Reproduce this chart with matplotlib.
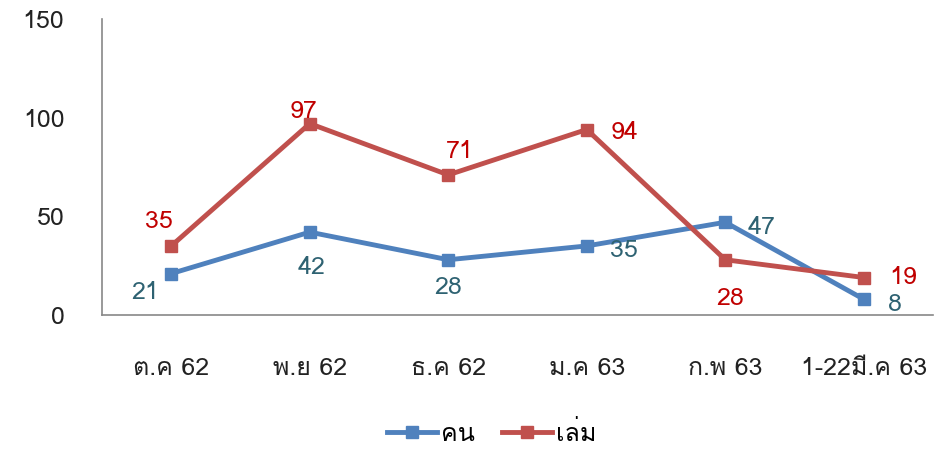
import matplotlib
matplotlib.use('Agg')
import matplotlib.pyplot as plt
from matplotlib import font_manager
from matplotlib.ft2font import FT2Font

# หาฟอนต์ที่มีอักษรไทย
def find_thai_font():
    for f in font_manager.fontManager.ttflist:
        try:
            cmap = FT2Font(f.fname).get_charmap()
        except Exception:
            continue
        if ord('ค') in cmap and ord('่') in cmap:
            return f.name
    return None

thai_font = find_thai_font()
fams = ([thai_font] if thai_font else []) + ['DejaVu Sans']
plt.rcParams['font.family'] = fams

months = ['ต.ค 62', 'พ.ย 62', 'ธ.ค 62', 'ม.ค 63', 'ก.พ 63', '1-22มี.ค 63']
people = [21, 42, 28, 35, 47, 8]
books = [35, 97, 71, 94, 28, 19]
series_names = ['คน', 'เล่ม']

blue = '#4F81BD'
red = '#C0504D'
blue_lab = '#2E6272'
red_lab = '#C00000'
fs = 18

fig = plt.figure(figsize=(9.45, 4.55), dpi=100)
ax = fig.add_axes([102 / 945, 1 - 315 / 455, (933 - 102) / 945, (315 - 19) / 455])

x = list(range(len(months)))
ax.plot(x, people, color=blue, lw=3.5, marker='s', ms=8, label=series_names[0])
ax.plot(x, books, color=red, lw=3.5, marker='s', ms=8, label=series_names[1])

# ตำแหน่งป้ายข้อมูล (offset เป็น pixels, ha)
blue_off = [(-26, -19, 'center'), (2, -35, 'center'), (0, -28, 'center'),
            (23, -5, 'left'), (22, -5, 'left'), (24, -5, 'left')]
red_off = [(-12, 24, 'center'), (-6, 12, 'center'), (12, 23, 'center'),
           (24, -3, 'left'), (5, -39, 'center'), (26, 0, 'left')]
for i, v in enumerate(people):
    dx, dy, ha = blue_off[i]
    ax.annotate(str(v), (i, v), xytext=(dx, dy), textcoords='offset pixels',
                ha=ha, va='center', color=blue_lab, fontsize=fs)
for i, v in enumerate(books):
    dx, dy, ha = red_off[i]
    ax.annotate(str(v), (i, v), xytext=(dx, dy), textcoords='offset pixels',
                ha=ha, va='center', color=red_lab, fontsize=fs)

ax.set_xlim(-0.5, 5.5)
ax.set_ylim(0, 150)
ax.set_yticks([0, 50, 100, 150])
ax.set_xticks(x)
ax.set_xticklabels(months)
ax.tick_params(axis='both', length=0, labelsize=fs, colors='#222222')
ax.tick_params(axis='y', pad=27)
ax.tick_params(axis='x', pad=30)
for s in ['top', 'right']:
    ax.spines[s].set_visible(False)
for s in ['left', 'bottom']:
    ax.spines[s].set_color('#888888')
    ax.spines[s].set_linewidth(1.2)

fig.legend(loc='lower center', bbox_to_anchor=(0.52, -0.03), ncol=2, frameon=False,
           fontsize=fs, handlelength=2.0, handletextpad=0.15, columnspacing=1.1)

fig.savefig('out.png', dpi=100)
